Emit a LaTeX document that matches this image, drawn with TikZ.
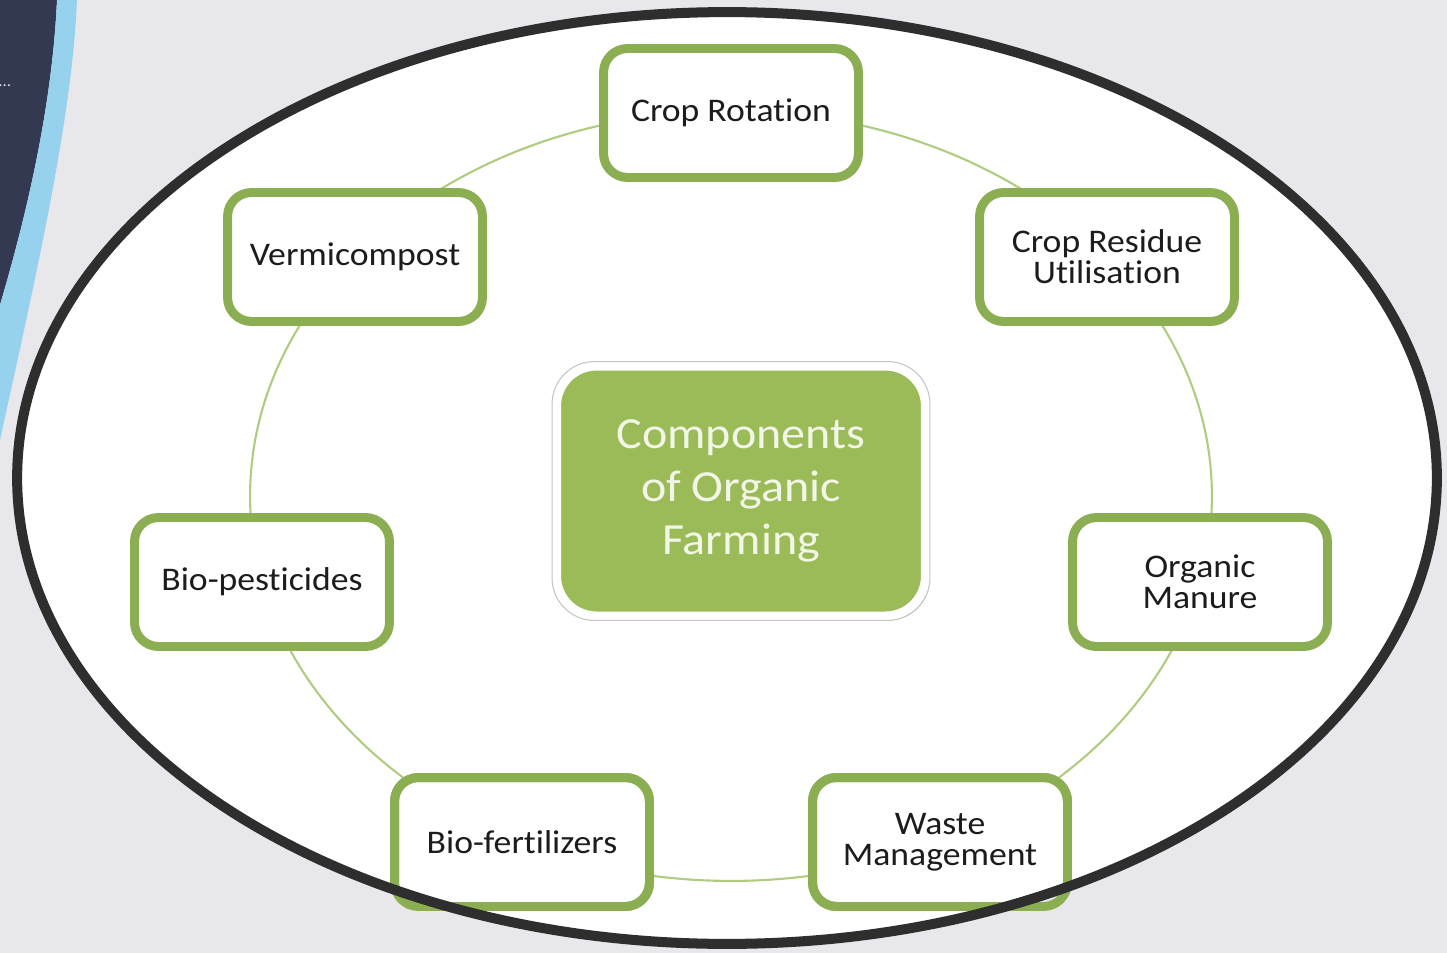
\documentclass[tikz,border=0pt]{standalone}
\usepackage{fontspec}
\setmainfont{Carlito}[FakeStretch=1.08, Ligatures=CommonOff]
\usepackage{tikz}
\usetikzlibrary{shadows}

\definecolor{bggray}{RGB}{232,231,235}
\definecolor{navy}{RGB}{52,57,82}
\definecolor{skyblue}{RGB}{150,209,238}
\definecolor{rimgray}{RGB}{46,46,46}
\definecolor{boxgreen}{RGB}{140,174,82}
\definecolor{fillgreen}{RGB}{155,187,89}
\definecolor{ringgreen}{RGB}{176,204,128}
\definecolor{textblack}{RGB}{28,28,28}
\definecolor{paletext}{RGB}{242,246,230}

\tikzset{
	part/.style={draw=boxgreen, line width=5.1pt, fill=white, rounded corners=0.48cm,
		minimum width=5.1cm, minimum height=2.58cm, inner sep=0pt, outer sep=0pt, align=center,
		text=textblack, font=\fontsize{18.8}{17.5}\selectfont,
		drop shadow={opacity=0.25, shadow xshift=1.5pt, shadow yshift=-2pt}},
	partline/.style={draw=boxgreen, line width=5.1pt, rounded corners=0.48cm},
	hub/.style={draw=white, line width=5.1pt, fill=fillgreen, rounded corners=0.8cm,
		minimum width=7.38cm, minimum height=5cm, inner sep=0pt, align=center,
		text=paletext, font=\fontsize{25.3}{30.2}\selectfont,
		drop shadow={opacity=0.35, shadow xshift=2pt, shadow yshift=-2.5pt}},
	ring/.style={draw=ringgreen, line width=1.2pt},
	rim/.style={draw=rimgray, line width=5.7pt}
}

\begin{document}
\begin{tikzpicture}[x=0.02cm, y=-0.02cm]
	\useasboundingbox (0,0) rectangle (1447,953);
	\fill[bggray] (0,0) rectangle (1447,953);
	
	\coordinate(RIMC) at (727,478);
	\fill[white] (RIMC) ellipse [x radius=14.2cm, y radius=9.32cm];
	
	\coordinate(RINGC) at (731,496);
	\draw[ring] (RINGC) ellipse [x radius=9.62cm, y radius=7.7cm];
	
	\node[hub](HUB) at (741,491){Components\\of Organic\\Farming};
	\draw[gray!45, line width=0.6pt, rounded corners=0.85cm] (HUB.south west) rectangle (HUB.north east);
	
	\node[part](CR) at (731,113){Crop Rotation};
	\node[part](CRU) at (1107,257){Crop Residue\\Utilisation};
	\node[part](OM) at (1200,582){Organic\\Manure};
	\node[part](WM) at (940,842){Waste\\Management};
	\node[part](BF) at (522,842){Bio-fertilizers};
	\node[part](BP) at (262,582){Bio-pesticides};
	\node[part](VC) at (355,257){Vermicompost};
	
	\fill[bggray, even odd rule] (0,0) rectangle (1447,953) (RIMC) ellipse [x radius=14.2cm, y radius=9.32cm];
	\begin{scope}
		\clip (RIMC) ellipse [x radius=14.4cm, y radius=9.75cm];
		\draw[partline] (WM.south west) rectangle (WM.north east);
		\draw[partline] (BF.south west) rectangle (BF.north east);
	\end{scope}
	
	\fill[navy] (0,0) -- (57,0) .. controls (52,110) and (25,220) .. (0,305) -- cycle;
	\fill[skyblue] (57,0) -- (77,0) .. controls (72,120) and (35,280) .. (0,440) -- (0,305)
		.. controls (25,220) and (52,110) .. (57,0) -- cycle;
	\node[anchor=west, text=white!85!navy, inner sep=0pt, font=\fontsize{9}{9}\selectfont](DOTS) at (-2,86){...};
	
	\draw[rim] (RIMC) ellipse [x radius=14.2cm, y radius=9.32cm];
	
\end{tikzpicture}
\end{document}
